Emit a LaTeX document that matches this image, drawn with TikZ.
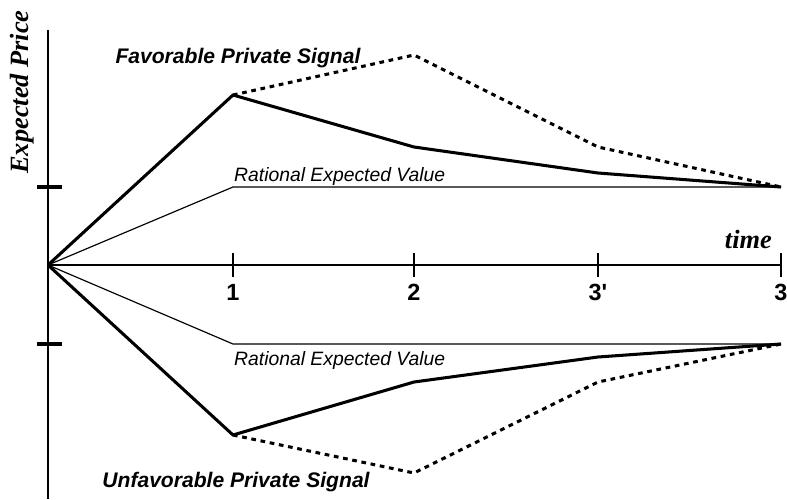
\documentclass[tikz,border=0pt]{standalone}
\usepackage{fontspec}
\setmainfont{Liberation Serif}
\setsansfont{Liberation Sans}
\usepackage{tikz}
\usetikzlibrary{positioning}
\tikzstyle{axis} = [line width = 1pt]
\tikzstyle{time tick} = [line width = 1pt]
\tikzstyle{value tick} = [line width = 2.6pt]
\tikzstyle{price path} = [line width = 2.6pt, line join = round]
\tikzstyle{signal path} = [line width = 2.6pt, dash pattern = on 4pt off 4pt]
\tikzstyle{rational path} = [line width = 1pt]
\tikzstyle{signal label} = [inner sep = 0, font = \sffamily\bfseries\itshape\fontsize{18}{20}\selectfont]
\tikzstyle{rational label} = [inner sep = 0, font = \sffamily\itshape\fontsize{16.5}{18}\selectfont]
\tikzstyle{tick label} = [inner sep = 0, font = \sffamily\bfseries\fontsize{20}{22}\selectfont]
\tikzstyle{axis label} = [inner sep = 0, font = \bfseries\itshape\fontsize{22.5}{24}\selectfont]
\tikzstyle{price picture} = [x = .03cm, y = -.03cm]

\begin{document}
\begin{tikzpicture}[price picture]
    \useasboundingbox (0, 0) rectangle (787, 499);

    % axes
    \coordinate (origin) at (48, 265);
    \coordinate (price top) at (48, 30);
    \coordinate (price bottom) at (48, 499);
    \coordinate (time end) at (781, 265);
    \draw [axis] (price top) -- (price bottom);
    \draw [axis] (origin) -- (time end);

    \foreach \name/\x/\lab in {t1/233/1, t2/414/2, t3p/598/{3\textquotesingle}, t3/781/3}
    {
        \coordinate (\name_top) at (\x, 253);
        \coordinate (\name_bot) at (\x, 277);
        \draw [time tick] (\name_top) -- (\name_bot);
        \node [tick label, below = .2cm of \name_bot] (\name_lab) {\lab};
    }

    \foreach \name/\y in {up/187, down/344}
    {
        \coordinate (\name_left) at (37, \y);
        \coordinate (\name_right) at (62, \y);
        \draw [value tick] (\name_left) -- (\name_right);
    }

    \node [axis label, rotate = 90] (price_lab) at (22, 92) {Expected Price};
    \node [axis label, anchor = base east] (time_lab) at (772, 248) {time};

    % favorable private signal
    \coordinate (fav_r1) at (233, 187);
    \coordinate (fav_r3) at (781, 187);
    \coordinate (fav_1) at (233, 95);
    \coordinate (fav_2) at (414, 147);
    \coordinate (fav_3p) at (598, 173);
    \coordinate (fav_d2) at (414, 55);
    \coordinate (fav_d3p) at (598, 147);
    \draw [rational path] (origin) -- (fav_r1) -- (fav_r3);
    \draw [price path] (origin) -- (fav_1) -- (fav_2) -- (fav_3p) -- (fav_r3);
    \draw [signal path] (fav_1) -- (fav_d2) -- (fav_d3p) -- (fav_r3);

    % unfavorable private signal
    \coordinate (unf_r1) at (233, 344);
    \coordinate (unf_r3) at (781, 344);
    \coordinate (unf_1) at (233, 435);
    \coordinate (unf_2) at (414, 382);
    \coordinate (unf_3p) at (598, 357);
    \coordinate (unf_d2) at (414, 473);
    \coordinate (unf_d3p) at (598, 382);
    \draw [rational path] (origin) -- (unf_r1) -- (unf_r3);
    \draw [price path] (origin) -- (unf_1) -- (unf_2) -- (unf_3p) -- (unf_r3);
    \draw [signal path] (unf_1) -- (unf_d2) -- (unf_d3p) -- (unf_r3);

    \node [signal label] (fav_lab) at (238, 58) {Favorable Private Signal};
    \node [signal label] (unf_lab) at (236, 482) {Unfavorable Private Signal};
    \node [rational label, anchor = base west] (fav_rat) at (234, 181) {Rational Expected Value};
    \node [rational label, anchor = base west] (unf_rat) at (234, 365) {Rational Expected Value};
\end{tikzpicture}
\end{document}
